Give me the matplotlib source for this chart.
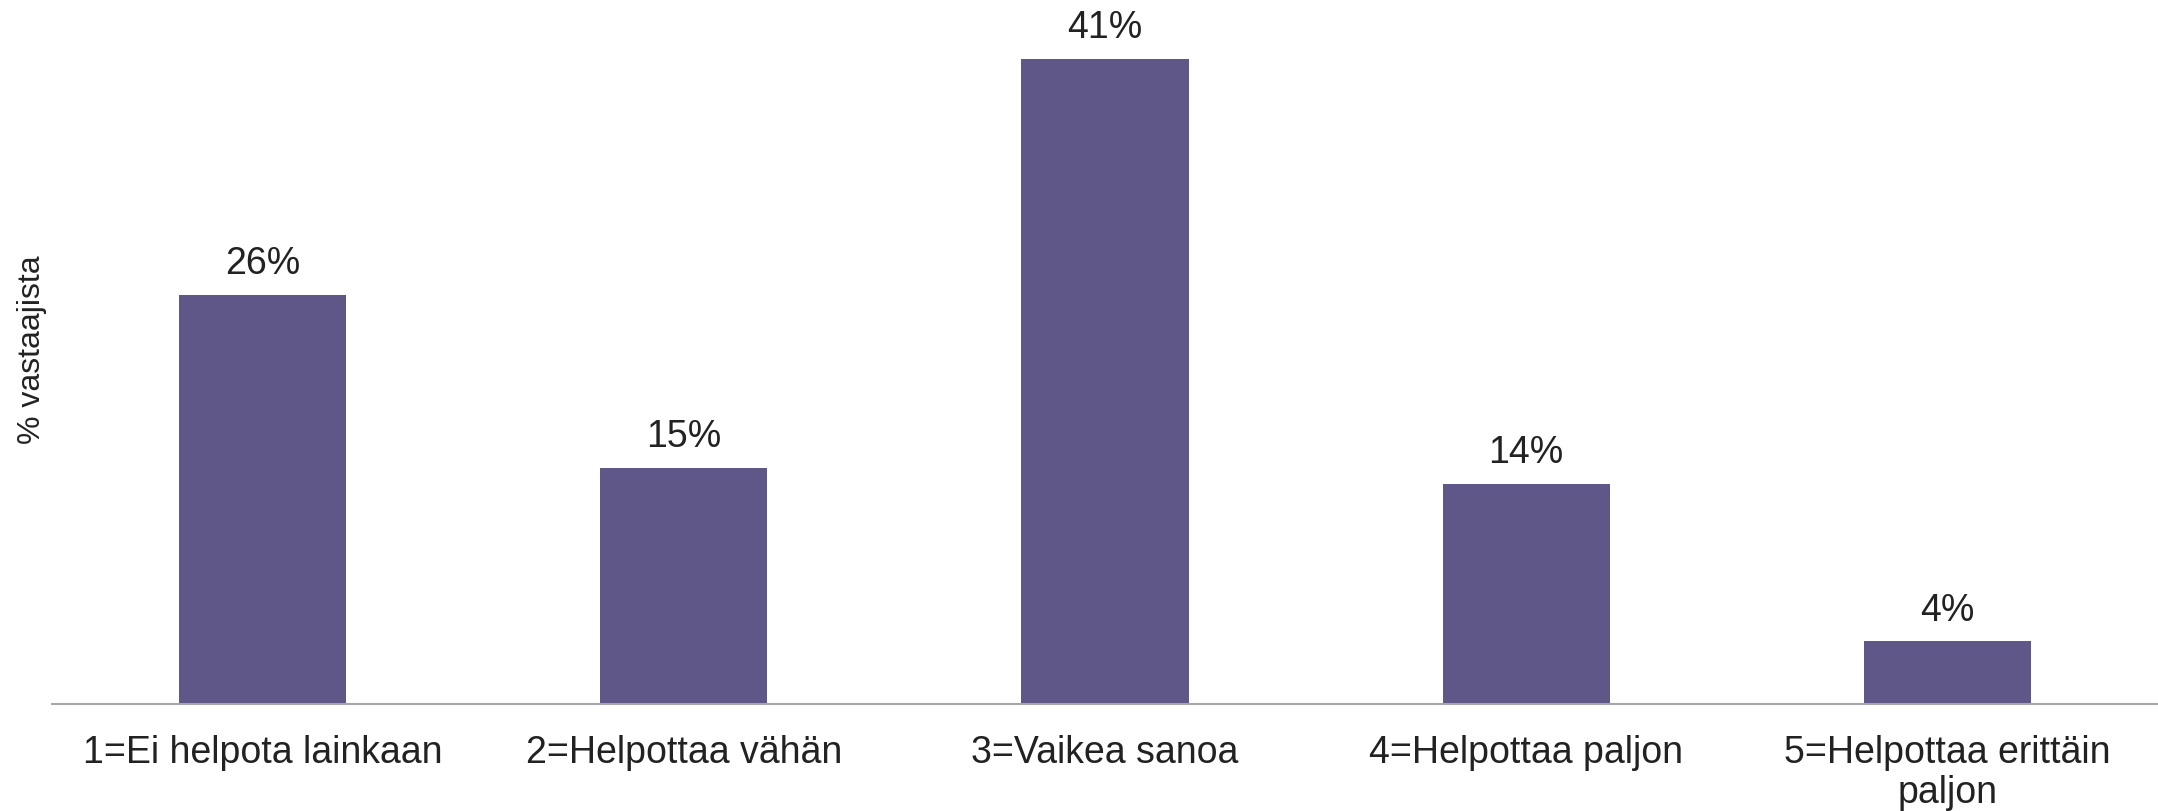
import matplotlib.pyplot as plt

plt.rcParams["font.family"] = ["Liberation Sans", "DejaVu Sans"]

categories = [
    "1=Ei helpota lainkaan",
    "2=Helpottaa vähän",
    "3=Vaikea sanoa",
    "4=Helpottaa paljon",
    "5=Helpottaa erittäin\npaljon",
]
values = [26, 15, 41, 14, 4]

BAR_COLOR = "#5e5788"
TEXT_COLOR = "#222222"

fig = plt.figure(figsize=(21.58, 8.11), dpi=100)
ax = fig.add_axes([52 / 2158, 107 / 811, 1 - 52 / 2158, (704 - 10) / 811])

x = range(len(categories))
bars = ax.bar(x, values, width=0.397, color=BAR_COLOR)
for b, v in zip(bars, values):
    ax.annotate(f"{v}%", (b.get_x() + b.get_width() / 2, v),
                xytext=(0, 9), textcoords="offset points",
                ha="center", va="bottom", fontsize=27, color=TEXT_COLOR)

ax.set_xlim(-0.5, len(categories) - 0.5)
ax.set_ylim(0, 44.1)
ax.set_xticks(list(x))
ax.set_xticklabels(categories, fontsize=27, color=TEXT_COLOR, linespacing=1.17)
ax.tick_params(axis="x", length=0, pad=22)
ax.set_yticks([])
for s in ["top", "right", "left"]:
    ax.spines[s].set_visible(False)
ax.spines["bottom"].set_color("#a6a6a6")
ax.spines["bottom"].set_linewidth(1.5)

fig.text(32 / 2158, 1 - 350 / 811, "% vastaajista", rotation=90,
         ha="center", va="center", fontsize=23, color=TEXT_COLOR)

fig.savefig("out.png", dpi=100)
